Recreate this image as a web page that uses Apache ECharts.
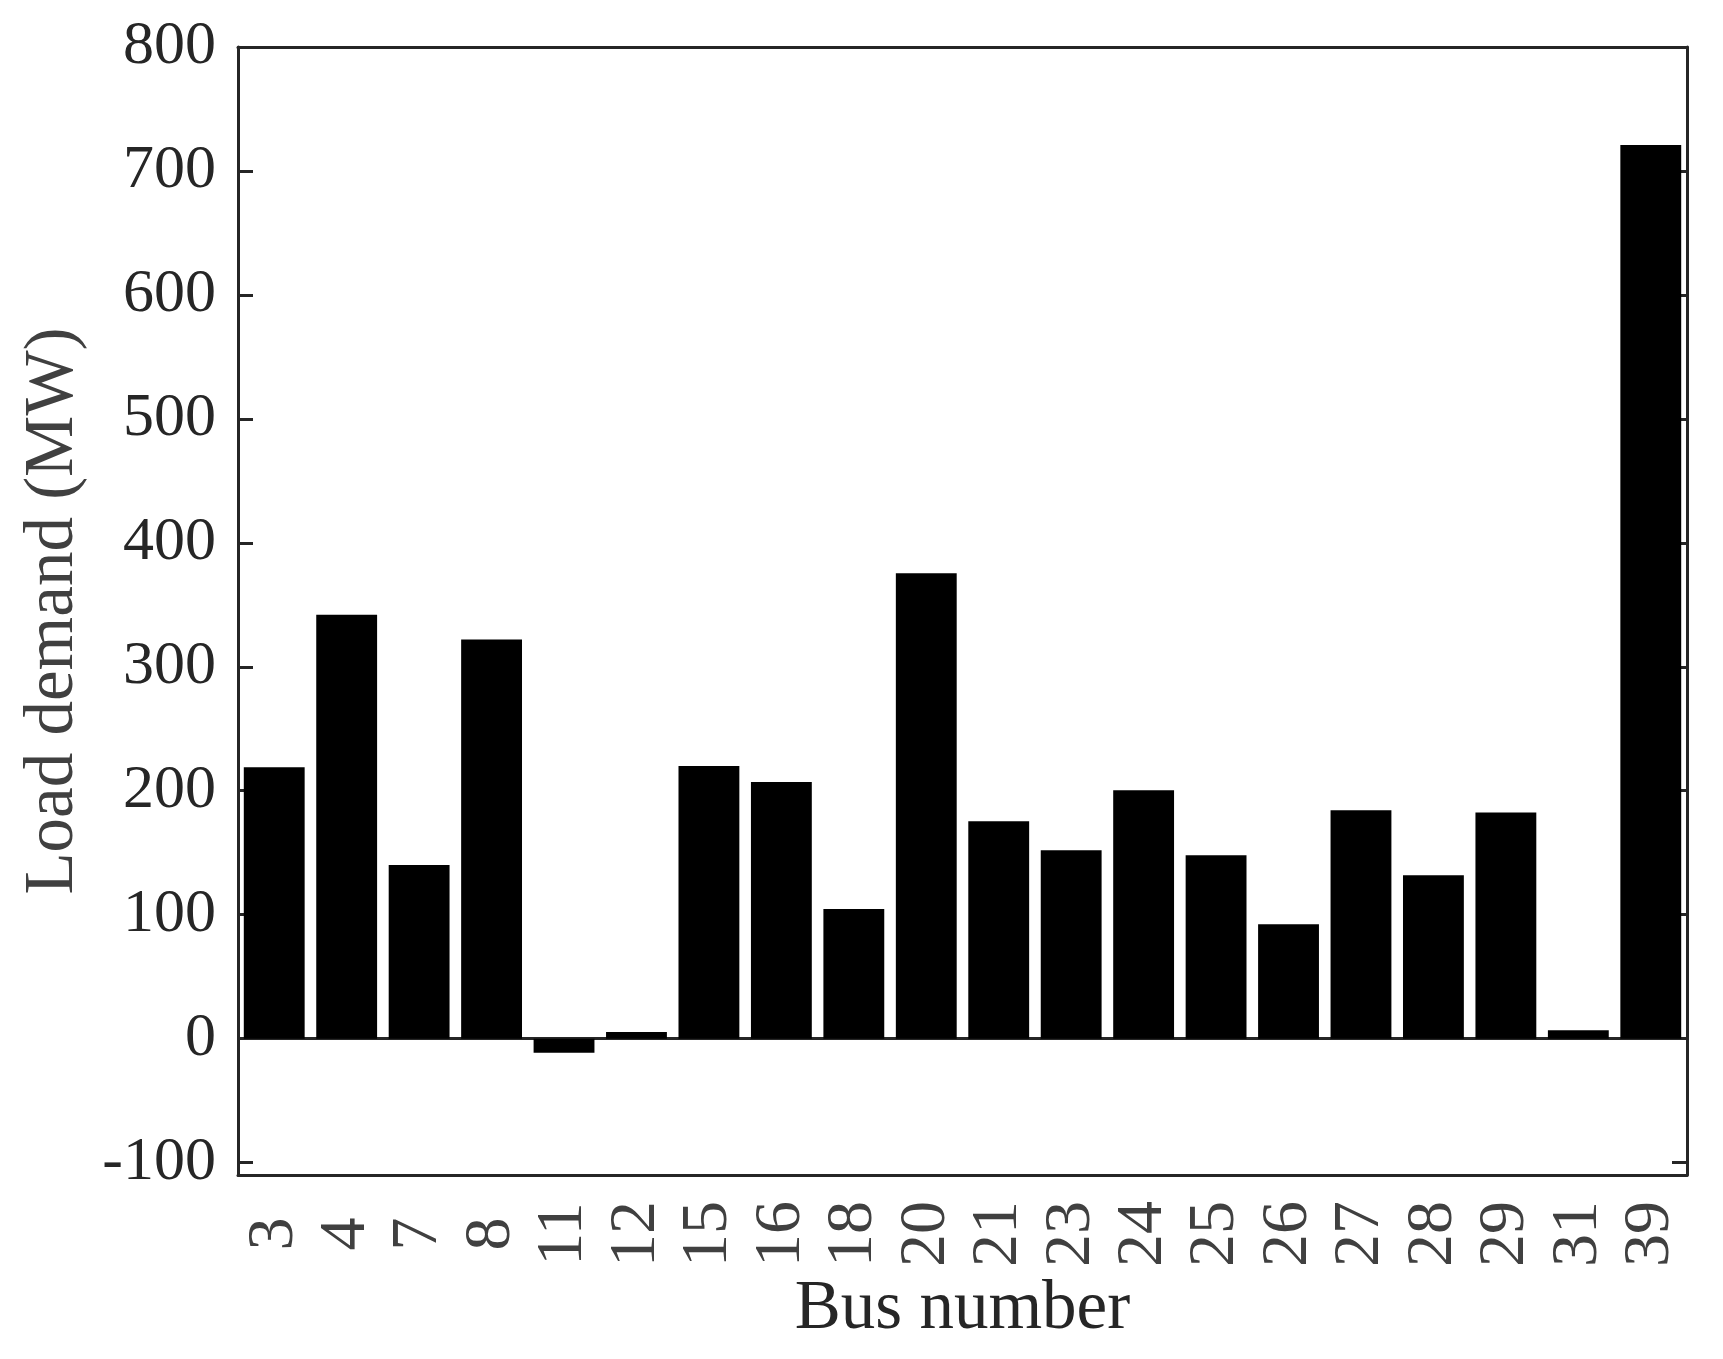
<!DOCTYPE html>
<html>
<head>
<meta charset="utf-8">
<script src="https://cdn.jsdelivr.net/npm/echarts@6/dist/echarts.min.js"></script>
<style>
  html, body { margin: 0; padding: 0; background: #fff; }
  #chart { width: 1723px; height: 1359px; }
</style>
</head>
<body>
<div id="chart"></div>
<script>
  // bus numbers and load demand (MW)
  var buses = ['3', '4', '7', '8', '11', '12', '15', '16', '18', '20',
               '21', '23', '24', '25', '26', '27', '28', '29', '31', '39'];
  var loadDemand = [219, 342, 140, 322, -11.3, 5.4, 220, 207, 104.5, 375.5,
                    175.3, 152, 200.3, 148, 92.2, 184.3, 131.8, 182.5, 6.7, 721];
  var yTicks = [-100, 0, 100, 200, 300, 400, 500, 600, 700, 800];

  var axisColor = '#262626';
  var font = 'Liberation Serif';

  var myChart = echarts.init(document.getElementById('chart'));
  myChart.setOption({
    animation: false,
    grid: {
      left: 238,
      top: 47,
      width: 1449,
      height: 1128
    },
    xAxis: [
      {
        type: 'category',
        data: buses,
        position: 'bottom',
        boundaryGap: true,
        name: 'Bus number',
        nameLocation: 'middle',
        nameGap: 94,
        nameTextStyle: {fontFamily: font, fontSize: 69, color: axisColor},
        axisLine: {onZero: false, lineStyle: {color: axisColor, width: 3}},
        axisTick: {alignWithLabel: true, inside: true, length: 15, lineStyle: {color: axisColor, width: 3}},
        axisLabel: {
          interval: 0,
          rotate: 90,
          align: 'center',
          verticalAlign: 'middle',
          margin: 59,
          fontFamily: font,
          fontSize: 66,
          color: '#404040'
        }
      },
      {
        type: 'category',
        data: buses,
        position: 'top',
        boundaryGap: true,
        axisLine: {onZero: false, lineStyle: {color: axisColor, width: 3}},
        axisTick: {alignWithLabel: true, inside: true, length: 15, lineStyle: {color: axisColor, width: 3}},
        axisLabel: {show: false}
      }
    ],
    yAxis: [
      {
        type: 'value',
        min: -110,
        max: 800,
        position: 'left',
        name: 'Load demand (MW)',
        nameLocation: 'middle',
        nameGap: 150,
        nameTextStyle: {fontFamily: font, fontSize: 69, color: '#404040'},
        splitLine: {show: false},
        axisLine: {show: true, lineStyle: {color: axisColor, width: 3}},
        axisTick: {show: true, inside: true, length: 15, customValues: yTicks, lineStyle: {color: axisColor, width: 3}},
        axisLabel: {customValues: yTicks, margin: 22, fontFamily: font, fontSize: 62, color: axisColor}
      },
      {
        type: 'value',
        min: -110,
        max: 800,
        position: 'right',
        splitLine: {show: false},
        axisLine: {show: true, lineStyle: {color: axisColor, width: 3}},
        axisTick: {show: true, inside: true, length: 15, customValues: yTicks, lineStyle: {color: axisColor, width: 3}},
        axisLabel: {show: false}
      }
    ],
    series: [
      {
        type: 'bar',
        name: 'Load demand',
        xAxisIndex: 0,
        yAxisIndex: 0,
        data: loadDemand,
        barCategoryGap: '16%',
        itemStyle: {color: '#000'},
        z: 3,
        markLine: {
          z: 1,
          silent: true,
          symbol: ['none', 'none'],
          label: {show: false},
          lineStyle: {type: 'solid', color: axisColor, width: 3},
          data: [{yAxis: 0}]
        }
      }
    ]
  });
</script>
</body>
</html>
